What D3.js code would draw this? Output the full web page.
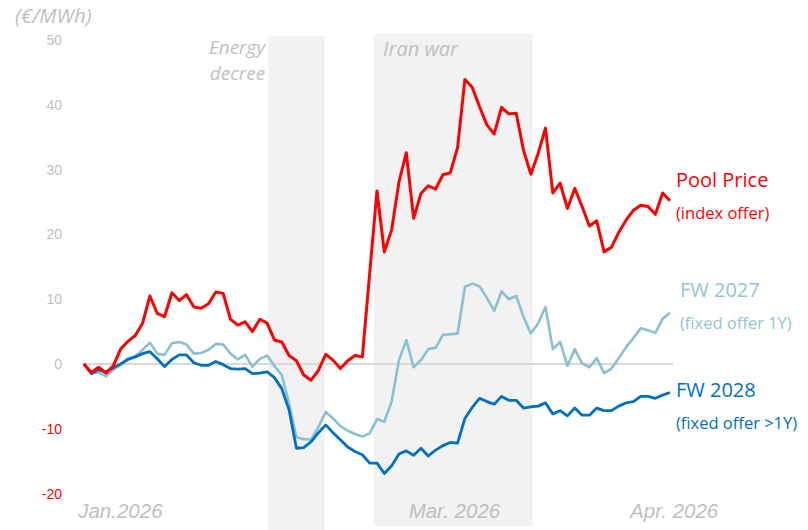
<!DOCTYPE html>
<html>
<head>
<meta charset="utf-8">
<script src="https://cdn.jsdelivr.net/npm/d3@7"></script>
<style>
  body { margin: 0; background: #fff; }
  svg { font-family: "Open Sans", sans-serif; }
  .axis-lbl { fill: #bfbfbf; font-size: 14px; }
</style>
</head>
<body>
<script>
// series values, one per trading session (index 0..80)
let poolPrice = [0, -1.3, -0.5, -1.4, -0.3, 2.3, 3.5, 4.4, 6.3, 10.5, 7.8, 7.3, 11.0, 9.8, 10.7, 8.8, 8.6, 9.3, 11.1, 10.9,
  6.9, 6.0, 6.5, 5.0, 6.9, 6.3, 3.7, 3.4, 1.3, 0.5, -1.7, -2.5, -1.0, 1.5, 0.6, -0.7, 0.5, 1.3, 1.1, 14.0,
  26.7, 17.3, 20.7, 28.1, 32.6, 22.5, 26.3, 27.5, 27.0, 29.2, 29.5, 33.4, 43.9, 42.7, 39.7, 36.9, 35.5, 39.6, 38.6, 38.7,
  33.0, 29.3, 32.5, 36.4, 26.4, 27.9, 24.0, 27.1, 24.3, 21.3, 22.1, 17.3, 18.0, 20.3, 22.2, 23.7, 24.5, 24.3, 23.1, 26.4, 25.2]

let fw2027 = [0, -1.4, -1.3, -1.9, -0.9, -0.1, 0.9, 1.2, 2.2, 3.3, 1.6, 1.4, 3.2, 3.4, 3.0, 1.6, 1.7, 2.2, 3.1, 3.0,
  1.6, 0.7, 1.4, -0.4, 0.8, 1.3, -0.3, -1.7, -6.1, -11.3, -11.6, -11.7, -9.7, -7.4, -8.4, -9.6, -10.3, -10.8, -11.2, -10.7,
  -8.5, -8.9, -5.8, 0.6, 3.7, -0.5, 0.6, 2.3, 2.5, 4.5, 4.6, 4.7, 11.9, 12.4, 12.0, 10.2, 8.2, 11.2, 10.0, 10.5,
  7.3, 4.7, 6.3, 8.8, 2.3, 3.4, -0.3, 2.3, 0.1, -0.5, 0.9, -1.4, -0.7, 0.9, 2.6, 4.0, 5.5, 5.2, 4.8, 7.0, 7.9]

let fw2028 = [0, -1.5, -0.9, -1.2, -0.6, 0, 0.7, 1.1, 1.6, 1.9, 0.8, -0.4, 0.7, 1.4, 1.4, 0.2, -0.2, -0.2, 0.4, -0.1,
  -0.7, -0.8, -0.7, -1.5, -1.4, -1.2, -2.1, -3.8, -7.1, -13.0, -12.9, -12.0, -10.6, -9.4, -10.6, -11.7, -12.8, -13.5, -14.0, -15.3,
  -15.3, -16.9, -15.7, -13.9, -13.4, -14.1, -13.0, -14.2, -13.3, -12.6, -12.1, -12.2, -8.4, -6.7, -5.3, -5.8, -6.2, -5.0, -5.6, -5.6,
  -6.8, -6.6, -6.5, -6.0, -7.7, -7.2, -8.0, -6.8, -7.9, -7.9, -6.8, -7.2, -7.2, -6.5, -6.0, -5.8, -5.0, -5.0, -5.3, -4.8, -4.4]

let yTicks = [-20, -10, 0, 10, 20, 30, 40, 50]
let xTickPos = [4.9, 50.5, 80.5]
let xTickLabels = ["Jan.2026", "Mar. 2026", "Apr. 2026"]

// shaded periods (index units)
let bandNames = [["Energy", "decree"], ["Iran war"]]
let bandStart = [25.15, 39.6]
let bandEnd = [32.85, 61.25]
let bandTop = [50.6, 50.9]
let bandBottom = [-25.7, -25.0]

let width = 808
let height = 530

let svg = d3.select("body").append("svg")
    .attr("width", width)
    .attr("height", height)

const xScale = d3.scaleLinear()
    .domain([0, poolPrice.length - 1])
    .range([84, 670])

const yScale = d3.scaleLinear()
    .domain([-20, 50])
    .range([493.6, 40])

// shaded bands
svg.selectAll("rect.band")
    .data(bandStart)
    .enter()
    .append("rect")
    .attr("class", "band")
    .attr("x", (d) => xScale(d))
    .attr("y", (d, i) => yScale(bandTop[i]))
    .attr("width", (d, i) => xScale(bandEnd[i]) - xScale(d))
    .attr("height", (d, i) => yScale(bandBottom[i]) - yScale(bandTop[i]))
    .attr("fill", "#f2f2f2")

// "Energy" / "decree" as two separate texts
svg.selectAll("text.band-name")
    .data(bandNames[0])
    .enter()
    .append("text")
    .attr("class", "band-name")
    .attr("x", xScale(bandStart[0]) - 3)
    .attr("y", (d, i) => 54 + i * 26)
    .attr("text-anchor", "end")
    .attr("fill", "#bfbfbf")
    .style("font-size", "19px")
    .style("font-style", "italic")
    .text(d => d)

svg.append("text")
    .attr("x", xScale(bandStart[1]) + 9)
    .attr("y", 56)
    .attr("fill", "#bfbfbf")
    .style("font-size", "20px")
    .style("font-style", "italic")
    .text(bandNames[1][0])

// zero line
svg.append("line")
    .attr("x1", xScale(0) - 1)
    .attr("x2", xScale(80) + 3)
    .attr("y1", yScale(0))
    .attr("y2", yScale(0))
    .attr("stroke", "#d9d9d9")
    .attr("stroke-width", 2)

// y axis
let yAxis = d3.axisLeft(yScale)
    .tickValues(yTicks)
    .tickSize(0)
    .tickPadding(0)
    .tickFormat(d => String(d))

svg.append("g")
    .attr("id", "y-axis")
    .attr("transform", "translate(62,0)")
    .call(yAxis)
    .call(g => g.select(".domain").remove())
    .selectAll("text")
    .attr("class", "axis-lbl")
    .attr("font-family", null)
    .attr("font-size", null)
    .style("fill", d => d < 0 ? "#ff0000" : "#bfbfbf")

// x axis labels
let xAxis = d3.axisBottom(xScale)
    .tickValues(xTickPos)
    .tickSize(0)
    .tickPadding(0)
    .tickFormat((d, i) => xTickLabels[i])

svg.append("g")
    .attr("id", "x-axis")
    .attr("transform", "translate(0,503)")
    .call(xAxis)
    .call(g => g.select(".domain").remove())
    .selectAll("text")
    .attr("font-family", null)
    .attr("font-size", null)
    .style("font-size", "20.5px")
    .style("font-style", "italic")
    .style("fill", "#bfbfbf")

svg.append("text")
    .attr("x", 15)
    .attr("y", 23)
    .attr("fill", "#bfbfbf")
    .style("font-size", "20.5px")
    .style("font-style", "italic")
    .text("(€/MWh)")

// lines
let line = d3.line()
    .x((d, i) => xScale(i))
    .y(d => yScale(d))

let series = [
    { values: fw2027, color: "#8bbfd3", w: 2.6 },
    { values: fw2028, color: "#0070c0", w: 2.8 },
    { values: poolPrice, color: "#ff0000", w: 3 }
]

svg.selectAll("path.series")
    .data(series)
    .enter()
    .append("path")
    .attr("class", "series")
    .attr("d", d => line(d.values))
    .attr("fill", "none")
    .attr("stroke", d => d.color)
    .attr("stroke-width", d => d.w)
    .attr("stroke-linejoin", "round")

// series labels
let labels = [
    { t: "Pool Price", s: "(index offer)", x: 676, y: 187, c: "#ff0000" },
    { t: "FW 2027", s: "(fixed offer 1Y)", x: 680, y: 297, c: "#92c4d8" },
    { t: "FW 2028", s: "(fixed offer >1Y)", x: 676, y: 397, c: "#0070c0" }
]

labels.forEach(l => {
    svg.append("text")
        .attr("x", l.x)
        .attr("y", l.y)
        .attr("fill", l.c)
        .style("font-size", "20px")
        .text(l.t)
    svg.append("text")
        .attr("x", l.x)
        .attr("y", l.y + 32)
        .attr("fill", l.c)
        .style("font-size", "16.5px")
        .text(l.s)
})
</script>
</body>
</html>
